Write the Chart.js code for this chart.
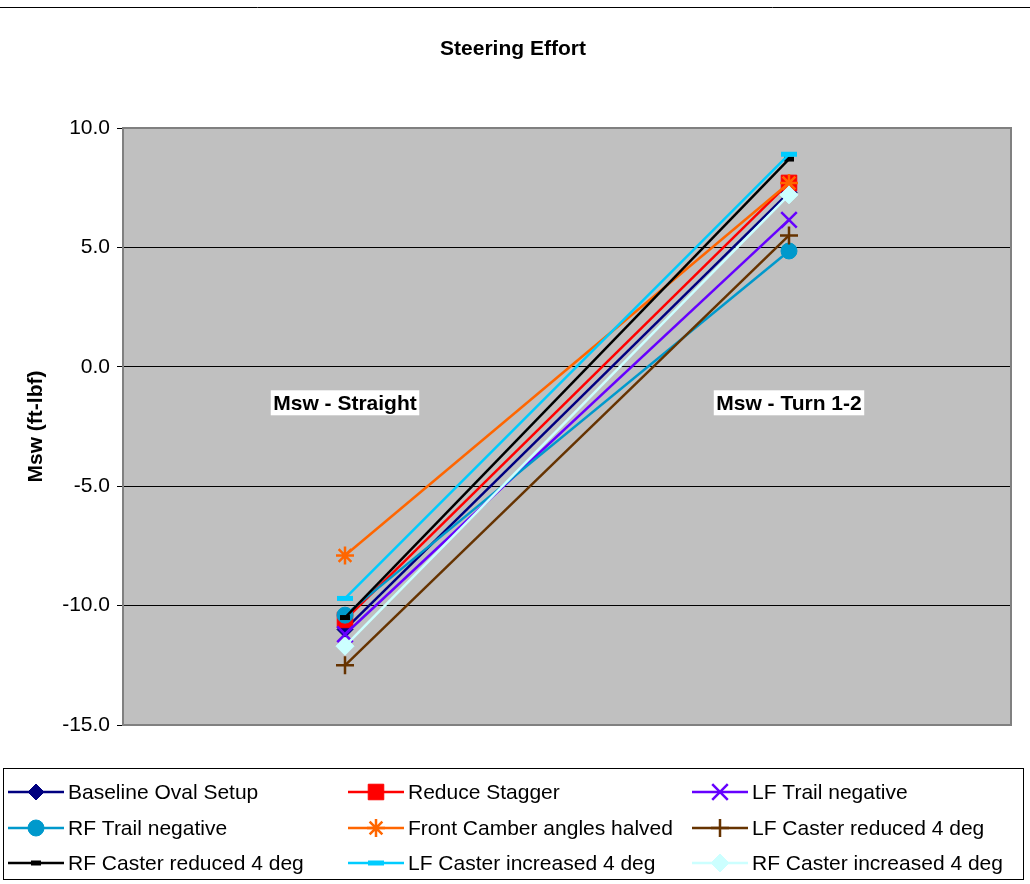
<!DOCTYPE html>
<html><head><meta charset="utf-8">
<script src="https://cdn.jsdelivr.net/npm/chart.js@4"></script>
<style>html,body{margin:0;padding:0;background:#fff;}</style>
</head><body>
<canvas id="c" width="1030" height="884"></canvas>
<script>
const titleText = 'Steering Effort';
const yTitle = 'Msw (ft-lbf)';
const categories = ['Msw - Straight', 'Msw - Turn 1-2'];
const seriesNames = ['Baseline Oval Setup', 'Reduce Stagger', 'LF Trail negative',
  'RF Trail negative', 'Front Camber angles halved', 'LF Caster reduced 4 deg',
  'RF Caster reduced 4 deg', 'LF Caster increased 4 deg', 'RF Caster increased 4 deg'];
const baselineOval = [-11.0, 7.3];
const reduceStagger = [-10.6, 7.7];
const lfTrailNeg = [-11.2, 6.15];
const rfTrailNeg = [-10.4, 4.85];
const frontCamberHalved = [-7.9, 7.7];
const lfCasterReduced = [-12.5, 5.5];
const rfCasterReduced = [-10.5, 8.7];
const lfCasterIncreased = [-9.7, 8.9];
const rfCasterIncreased = [-11.7, 7.2];
const yTickValues = [-15, -10, -5, 0, 5, 10];

const seriesValues = [baselineOval, reduceStagger, lfTrailNeg, rfTrailNeg, frontCamberHalved,
  lfCasterReduced, rfCasterReduced, lfCasterIncreased, rfCasterIncreased];
const styles = [
  {color:'#000080', point:'rectRot', r:8, bw:1},
  {color:'#FF0000', point:'rect', r:11, bw:1},
  {color:'#6600FF', point:'crossRot', r:11, bw:2.5},
  {color:'#0099CC', point:'circle', r:8, bw:1},
  {color:'#FF6600', point:'star', r:9, bw:2.5},
  {color:'#663300', point:'cross', r:9, bw:2.5},
  {color:'#000000', point:'line', r:5, bw:5},
  {color:'#00CCFF', point:'line', r:8, bw:5},
  {color:'#CCFFFF', point:'rectRot', r:9, bw:1}
];
const FONT = "'Liberation Sans', Arial, Helvetica, sans-serif";

const datasets = seriesValues.map((vals, i) => ({
  label: seriesNames[i],
  data: vals,
  borderColor: styles[i].color,
  backgroundColor: styles[i].color,
  pointBackgroundColor: styles[i].color,
  pointBorderColor: styles[i].color,
  pointStyle: styles[i].point,
  pointRadius: styles[i].r,
  pointBorderWidth: styles[i].bw,
  borderWidth: 2.5,
  tension: 0,
  order: seriesValues.length - i
}));

function drawMarker(ctx, st, x, y) {
  ctx.save();
  ctx.fillStyle = st.color; ctx.strokeStyle = st.color; ctx.lineWidth = st.bw;
  if (Chart.helpers && Chart.helpers.drawPoint) {
    Chart.helpers.drawPoint(ctx, {pointStyle: st.point, radius: st.r, rotation: 0, borderWidth: st.bw}, x, y);
  }
  ctx.restore();
}

const decor = {
  id: 'decor',
  beforeDraw(chart) {
    const {ctx, chartArea: a} = chart;
    ctx.save();
    ctx.fillStyle = '#fff'; ctx.fillRect(0, 0, chart.width, chart.height);
    ctx.fillStyle = '#c0c0c0'; ctx.fillRect(a.left, a.top, a.right - a.left, a.bottom - a.top);
    ctx.strokeStyle = '#000'; ctx.lineWidth = 1;
    ctx.beginPath(); ctx.moveTo(0, 7.5); ctx.lineTo(chart.width, 7.5); ctx.stroke();
    ctx.fillStyle = '#000'; ctx.font = 'bold 21px ' + FONT;
    ctx.textAlign = 'center'; ctx.textBaseline = 'middle';
    ctx.fillText(titleText, 513, 49);
    ctx.translate(36, (a.top + a.bottom) / 2); ctx.rotate(-Math.PI / 2);
    ctx.fillText(yTitle, 0, 0);
    ctx.restore();
  },
  beforeDatasetsDraw(chart) {
    const {ctx, chartArea: a} = chart;
    ctx.save();
    ctx.strokeStyle = '#808080'; ctx.lineWidth = 2;
    ctx.strokeRect(a.left, a.top, a.right - a.left, a.bottom - a.top);
    ctx.restore();
  },
  afterDatasetsDraw(chart) {
    const {ctx} = chart;
    const xs = chart.scales.x, ys = chart.scales.y;
    ctx.save();
    ctx.font = 'bold 21px ' + FONT;
    ctx.textAlign = 'center'; ctx.textBaseline = 'middle';
    const cy = ys.getPixelForValue(0) + 36;
    categories.forEach((c, i) => {
      const cx = xs.getPixelForValue(i);
      const w = ctx.measureText(c).width + 5;
      ctx.fillStyle = '#fff'; ctx.fillRect(cx - w / 2, cy - 12.5, w, 25);
      ctx.fillStyle = '#000'; ctx.fillText(c, cx, cy + 1);
    });
    // legend
    ctx.strokeStyle = '#000'; ctx.lineWidth = 1;
    ctx.strokeRect(3.5, 768.5, 1020, 111);
    const colX = [8, 348, 692], rowY = [792, 828, 863];
    ctx.font = '21px ' + FONT; ctx.textAlign = 'left';
    chart.data.datasets.forEach((d, i) => {
      const x = colX[i % 3], y = rowY[Math.floor(i / 3)];
      const st = styles[i];
      ctx.strokeStyle = st.color; ctx.lineWidth = 2.5;
      ctx.beginPath(); ctx.moveTo(x, y); ctx.lineTo(x + 56, y); ctx.stroke();
      drawMarker(ctx, st, x + 28, y);
      ctx.fillStyle = '#000'; ctx.fillText(d.label, x + 60, y + 1);
    });
    ctx.restore();
  }
};

new Chart(document.getElementById('c'), {
  type: 'line',
  data: {labels: categories, datasets},
  options: {
    responsive: false, animation: false, devicePixelRatio: 1,
    layout: {padding: {left: 0, top: 128, right: 19, bottom: 159}},
    plugins: {legend: {display: false}, title: {display: false}, tooltip: {enabled: false}},
    scales: {
      x: {type: 'category', display: false, offset: true},
      y: {
        min: -15, max: 10,
        afterFit(s) { s.width = 123; },
        afterBuildTicks(s) { s.ticks = yTickValues.map(v => ({value: v})); },
        ticks: {
          callback: v => Number(v).toFixed(1),
          font: {family: FONT, size: 21}, color: '#000', padding: 7
        },
        grid: {color: '#000', lineWidth: 1, tickLength: 6, tickColor: '#000', drawOnChartArea: true},
        border: {display: false}
      }
    }
  },
  plugins: [decor]
});
</script>
</body></html>
